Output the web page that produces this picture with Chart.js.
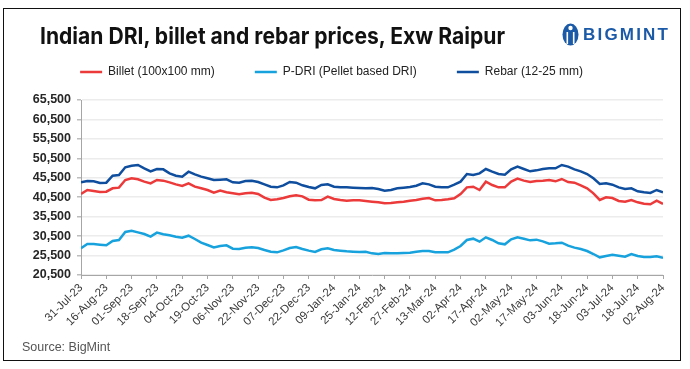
<!DOCTYPE html>
<html lang="en">
<head>
<meta charset="UTF-8" />
<title>Indian DRI, billet and rebar prices, Exw Raipur</title>
<style>
  body { margin: 0; background: #fff; font-family: "Liberation Sans", Arial, sans-serif; }
  .frame { position: relative; width: 690px; height: 369px; overflow: hidden; }
  .border { position: absolute; left: 3px; top: 8px; width: 678px; height: 353px; border: 1.5px solid #111; box-sizing: border-box; }
  #chartTitle { position: absolute; left: 40px; top: 23px; margin: 0; display: inline-block; white-space: nowrap;
    font: bold 23px Inter, "Liberation Sans", sans-serif; line-height: 26px; color: #111; transform-origin: left top; }
  .logo { position: absolute; left: 562px; top: 23px; height: 22px; }
  .logo svg { position: absolute; left: 0; top: 0; }
  .logo span { position: absolute; left: 21px; top: 2px; font: bold 17px "Liberation Sans", Arial, sans-serif;
    letter-spacing: 2.2px; color: #1b5aa7; line-height: 19px; }
  .source { position: absolute; left: 22px; top: 340px; font-size: 12.5px; color: #555; }
  #chartBox { position: absolute; left: 0; top: 0; width: 690px; height: 369px; }
</style>
</head>
<body>
<div class="frame">
  <div class="border"></div>
  <div id="chartBox"><canvas id="priceChart" width="690" height="369"></canvas></div>
  <h1 id="chartTitle">Indian DRI, billet and rebar prices, Exw Raipur</h1>
  <div class="logo">
    <svg width="17" height="23" viewBox="0 0 17 23">
      <ellipse cx="8.5" cy="11.5" rx="8" ry="11" fill="#1b5aa7" />
      <circle cx="8.5" cy="5" r="2.2" fill="#fff" />
      <rect x="4.5" y="9" width="1.6" height="12" fill="#fff" />
      <rect x="10.9" y="9" width="1.6" height="12" fill="#fff" />
    </svg>
    <span>BIGMINT</span>
  </div>
  <div class="source">Source: BigMint</div>
</div>

<script src="https://cdn.jsdelivr.net/npm/chart.js"></script>
<script>
  // x-axis tick labels, one every 4 data points
  const dateLabels = ["31-Jul-23", "16-Aug-23", "01-Sep-23", "18-Sep-23", "04-Oct-23", "19-Oct-23",
    "06-Nov-23", "22-Nov-23", "07-Dec-23", "22-Dec-23", "09-Jan-24", "25-Jan-24", "12-Feb-24",
    "27-Feb-24", "13-Mar-24", "02-Apr-24", "17-Apr-24", "02-May-24", "17-May-24", "03-Jun-24",
    "18-Jun-24", "03-Jul-24", "18-Jul-24", "02-Aug-24"];
  const pointsPerLabel = 4;

  // Billet (100x100 mm), INR/t
  const billet = [41330, 42360, 42100, 41840, 41930, 42790, 42960, 44930, 45360, 45100,
    44500, 44070, 44930, 44760, 44330, 43810, 43390, 44070, 43210, 42790,
    42360, 41670, 42190, 41760, 41500, 41240, 41500, 41670, 41330, 40390,
    39790, 39960, 40300, 40730, 40990, 40730, 39870, 39700, 39790, 40640,
    40040, 39790, 39610, 39700, 39700, 39530, 39360, 39190, 38930, 39010,
    39190, 39360, 39610, 39790, 40130, 40300, 39700, 39790, 39960, 40210,
    41330, 43040, 43210, 42360, 44500, 43640, 43040, 43040, 44500, 45270,
    44760, 44410, 44670, 44760, 44930, 44590, 45190, 44410, 44240, 43560,
    42790, 41500, 39790, 40470, 40300, 39530, 39360, 39790, 39190, 38840,
    38670, 39610, 38760];

  // P-DRI (Pellet based DRI)
  const pdri = [27360, 28470, 28470, 28300, 28130, 29240, 29500, 31560, 31900, 31470,
    31040, 30360, 31390, 30960, 30700, 30360, 30100, 30610, 29760, 28810,
    28210, 27610, 27960, 28130, 27270, 27190, 27530, 27610, 27440, 26930,
    26500, 26330, 26840, 27440, 27700, 27190, 26760, 26410, 27100, 27360,
    26930, 26760, 26590, 26500, 26410, 26500, 26070, 25900, 26160, 26070,
    26070, 26160, 26240, 26500, 26670, 26670, 26330, 26330, 26330, 27010,
    27960, 29500, 29840, 29070, 30190, 29500, 28640, 28390, 29670, 30190,
    29840, 29410, 29590, 29160, 28560, 28640, 28810, 28040, 27530, 27190,
    26670, 25900, 25040, 25390, 25730, 25470, 25210, 25900, 25390, 25130,
    25130, 25300, 24960];

  // Rebar (12-25 mm)
  const rebar = [44330, 44670, 44590, 44160, 44240, 46040, 46210, 48190, 48610, 48790,
    47930, 47160, 47760, 47670, 46640, 46040, 45790, 47070, 46390, 45790,
    45360, 44930, 45010, 45100, 44330, 44240, 44670, 44760, 44410, 43810,
    43210, 43040, 43560, 44410, 44240, 43560, 43130, 42790, 43640, 43810,
    43210, 43040, 43040, 42960, 42870, 42790, 42870, 42610, 42190, 42360,
    42790, 42960, 43130, 43470, 44070, 43810, 43210, 43040, 43040, 43730,
    44500, 46470, 46210, 46640, 47760, 47070, 46470, 46300, 47670, 48360,
    47760, 47160, 47410, 47760, 47930, 47930, 48790, 48360, 47670, 47160,
    46470, 45360, 43900, 44070, 43730, 43040, 42610, 42790, 42010, 41760,
    41590, 42360, 41760];

  const yMin = 20500, yMax = 65500, yStep = 5000;

  function toPoints(arr) {
    return arr.map(function (v, i) { return { x: i, y: v }; });
  }

  function lineSet(label, values, color) {
    return {
      label: label,
      data: toPoints(values),
      borderColor: color,
      backgroundColor: color,
      borderWidth: 2.5,
      pointRadius: 0,
      tension: 0,
    };
  }

  // adds space between the legend and the plot
  const legendGap = {
    id: "legendGap",
    beforeInit(chart) {
      const fit = chart.legend.fit;
      chart.legend.fit = function () {
        fit.bind(chart.legend)();
        this.height += 12;
      };
    },
  };

  const config = {
    type: "line",
    data: {
      datasets: [
        lineSet("Billet (100x100 mm)", billet, "#ec3a3b"),
        lineSet("P-DRI (Pellet based DRI)", pdri, "#17a2dd"),
        lineSet("Rebar (12-25 mm)", rebar, "#0f4e9e"),
      ],
    },
    options: {
      responsive: false,
      animation: false,
      layout: { padding: { left: 0, right: 27, top: 26, bottom: 0 } },
      plugins: {
        tooltip: { enabled: false },
        legend: {
          position: "top",
          labels: {
            boxWidth: 22,
            boxHeight: 0,
            padding: 40,
            color: "#222",
            font: { family: "'Liberation Sans', Arial, sans-serif", size: 12 },
          },
        },
      },
      scales: {
        x: {
          type: "linear",
          min: 0,
          max: (dateLabels.length - 1) * pointsPerLabel,
          afterFit: function (scale) { scale.height = 94; },
          border: { display: true, color: "#a6a6a6", width: 1 },
          grid: { drawOnChartArea: false, drawTicks: true, tickLength: 4, color: "#a6a6a6" },
          ticks: {
            stepSize: pointsPerLabel,
            autoSkip: false,
            minRotation: 45,
            maxRotation: 45,
            padding: 2,
            color: "#3a3a3a",
            font: { family: "'Liberation Sans', Arial, sans-serif", size: 11.5 },
            callback: function (value) { return dateLabels[Math.round(value / pointsPerLabel)]; },
          },
        },
        y: {
          min: yMin,
          max: yMax,
          afterFit: function (scale) { scale.width = 81; },
          border: { display: true, color: "#a6a6a6", width: 1 },
          grid: { color: "#ececec", lineWidth: 1.5, tickLength: 4, tickColor: "#bdbdbd" },
          ticks: {
            stepSize: yStep,
            padding: 6,
            color: "#262626",
            font: { family: "'Liberation Sans', Arial, sans-serif", size: 12.5, weight: "bold" },
            callback: function (value) { return value.toLocaleString("en-US"); },
          },
        },
      },
    },
    plugins: [legendGap],
  };

  const priceChart = new Chart(document.getElementById("priceChart"), config);

  // squeeze the title to the width used in the reference
  const titleEl = document.getElementById("chartTitle");
  const titleWidth = titleEl.getBoundingClientRect().width;
  titleEl.style.transform = "scaleX(" + (465 / titleWidth) + ")";
</script>
</body>
</html>
